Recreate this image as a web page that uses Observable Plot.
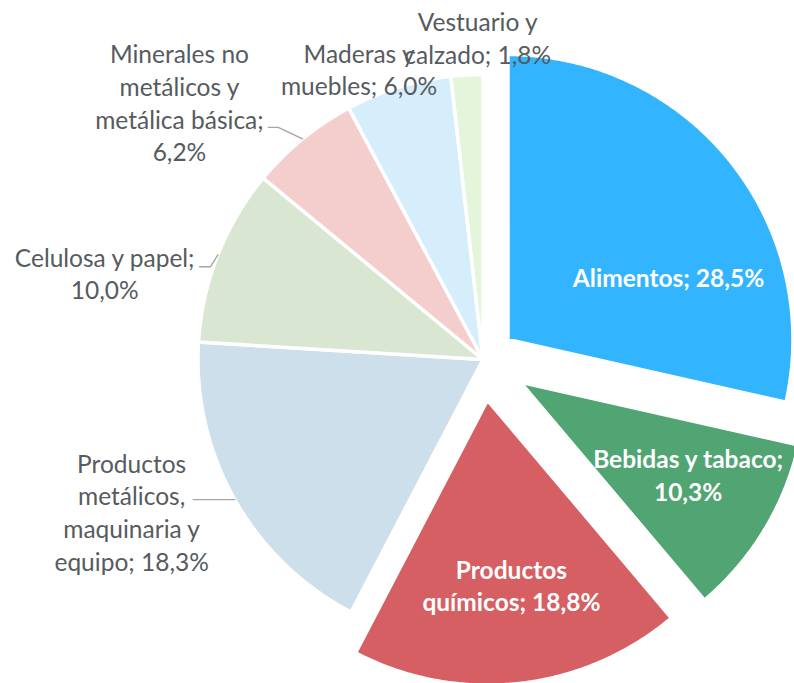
<!DOCTYPE html>
<html><head><meta charset="utf-8">
<script src="https://cdn.jsdelivr.net/npm/d3@7"></script>
<script src="https://cdn.jsdelivr.net/npm/@observablehq/plot@0.6"></script>
<style>html,body{margin:0;padding:0;background:#fff;overflow:hidden}</style>
</head><body><div id="chart"></div>
<script>
// ---- data ----
const categories = ["Alimentos", "Bebidas y tabaco", "Productos químicos", "Productos metálicos, maquinaria y equipo", "Celulosa y papel", "Minerales no metálicos y metálica básica", "Maderas y muebles", "Vestuario y calzado"];
const shares = [28.5, 10.3, 18.8, 18.3, 10.0, 6.2, 6.0, 1.8];
const labelNames = ["Alimentos", "Bebidas y tabaco", "Productos\nquímicos", "Productos\nmetálicos,\nmaquinaria y\nequipo", "Celulosa y papel", "Minerales no\nmetálicos y\nmetálica básica", "Maderas y\nmuebles", "Vestuario y\ncalzado"];
const sliceColors = ["#33B4FF", "#50A572", "#D55F63", "#CDDFEA", "#D9E6D2", "#F4CECC", "#D6EDFC", "#E4F5DC"];

// ---- layout ----
const W = 794, H = 683;
const CX = 482.5, CY = 359, R = 285;
const explode = [32, 44, 41, 0, 0, 0, 0, 0];
const labelLayout = [
  {dA: 17.3, rf: 0.605, br: false, inside: true},
  {dA: -2.6, rf: 0.67, br: true, inside: true},
  {dA: -1.1, rf: 0.652, br: false, inside: true},
  {dA: 6.1, rf: 1.343, br: false, inside: false},
  {dA: -8.6, rf: 1.362, br: true, inside: false},
  {dA: -10.4, rf: 1.397, br: true, inside: false},
  {dA: -5.8, rf: 1.109, br: false, inside: false},
  {dA: 2.3, rf: 1.132, br: false, inside: false}
];
const leaders = [
  {i: 3, elbowA: null, elbowR: 1.0, len: 41.6},
  {i: 4, elbowA: 288.8, elbowR: 1.010, len: 11},
  {i: 5, elbowA: 318.6, elbowR: 1.086, len: 10}
];
const FONT_SIZE = 24.5, LINE_HEIGHT = 1.33;

const rad = Math.PI / 180;
const arcs = d3.pie().sort(null).value(d => d)(shares);
const fmt = v => v.toFixed(1).replace(".", ",") + "%";

const slicePts = [];
arcs.forEach((a, i) => {
  const mid = (a.startAngle + a.endAngle) / 2;
  const ox = explode[i] * Math.sin(mid), oy = explode[i] * Math.cos(mid);
  const cat = categories[i];
  slicePts.push({cat, x: ox, y: oy});
  const n = Math.max(2, Math.ceil((a.endAngle - a.startAngle) / (Math.PI / 360)));
  for (let k = 0; k <= n; k++) {
    const t = a.startAngle + (a.endAngle - a.startAngle) * k / n;
    slicePts.push({cat, x: ox + R * Math.sin(t), y: oy + R * Math.cos(t)});
  }
  slicePts.push({cat, x: ox, y: oy});
});

const labels = arcs.map((a, i) => {
  const L = labelLayout[i];
  const mid = (a.startAngle + a.endAngle) / 2;
  const ox = explode[i] * Math.sin(mid), oy = explode[i] * Math.cos(mid);
  const ang = mid + L.dA * rad;
  return {
    x: ox + L.rf * R * Math.sin(ang),
    y: oy + L.rf * R * Math.cos(ang),
    text: labelNames[i] + ";" + (L.br ? "\n" : " ") + fmt(shares[i]),
    inside: L.inside
  };
});

const leaderPts = [];
leaders.forEach(ld => {
  const a = arcs[ld.i];
  const mid = (a.startAngle + a.endAngle) / 2;
  const p0 = {x: R * Math.sin(mid), y: R * Math.cos(mid)};
  const ea = ld.elbowA == null ? mid : ld.elbowA * rad;
  const e = {x: ld.elbowR * R * Math.sin(ea), y: ld.elbowR * R * Math.cos(ea)};
  const g = categories[ld.i];
  leaderPts.push({g, ...p0}, {g, ...e}, {g, x: e.x - ld.len, y: e.y});
});

const chart = Plot.plot({
  width: W, height: H,
  margin: 0,
  x: {domain: [-CX, W - CX], axis: null},
  y: {domain: [-(H - CY), CY], axis: null},
  color: {domain: categories, range: sliceColors},
  style: {fontFamily: "Lato, 'Open Sans', sans-serif", background: "#fff", overflow: "visible"},
  marks: [
    Plot.line(slicePts, {x: "x", y: "y", z: "cat", fill: "cat", stroke: "white", strokeWidth: 3.5, strokeLinejoin: "round", curve: "linear"}),
    Plot.line(leaderPts, {x: "x", y: "y", z: "g", stroke: "#A6A6A6", strokeWidth: 1.4}),
    Plot.text(labels.filter(d => !d.inside), {x: "x", y: "y", text: "text", textAnchor: "middle", lineAnchor: "middle", lineHeight: LINE_HEIGHT, fontSize: FONT_SIZE, fill: "#565b60"}),
    Plot.text(labels.filter(d => d.inside), {x: "x", y: "y", text: "text", textAnchor: "middle", lineAnchor: "middle", lineHeight: LINE_HEIGHT, fontSize: FONT_SIZE, fontWeight: "bold", fill: "white"})
  ]
});
document.getElementById("chart").append(chart);
</script>
</body></html>
